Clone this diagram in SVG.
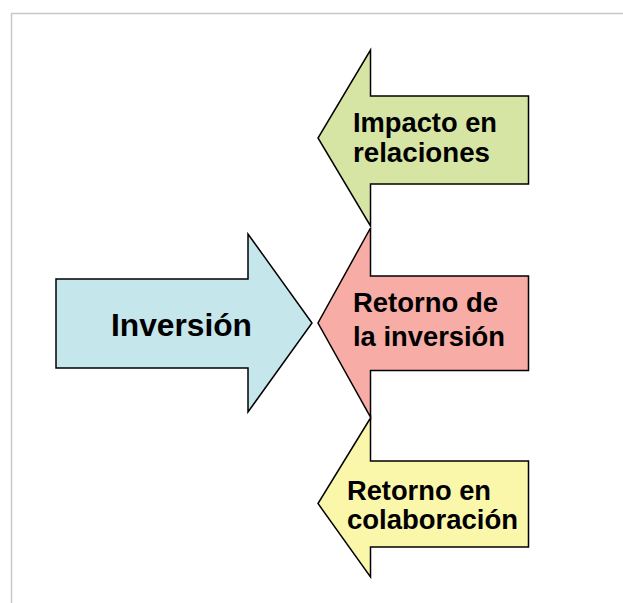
<svg xmlns="http://www.w3.org/2000/svg" width="623" height="603" viewBox="0 0 623 603">
<style>
.arrow{stroke:#000;stroke-width:1.5;stroke-linejoin:miter}
.lbl{font-family:"Liberation Sans",Arial,sans-serif;font-weight:bold;fill:#000}
.sm{font-size:27px}
.lg{font-size:31px}
</style>
<rect width="623" height="603" fill="#fff"/>
<path d="M11.5 603 V13.5 H623" fill="none" stroke="#c8c8c8" stroke-width="1.5"/>
<g id="connectors"></g>
<g id="inversion">
<path class="arrow" fill="#c5e6eb" d="M56 279 H248 V234 L312 323 L248 412 V368 H56 Z"/>
<text class="lbl lg" x="111" y="336" textLength="141" lengthAdjust="spacingAndGlyphs">Inversión</text>
</g>
<g id="impacto">
<path class="arrow" fill="#d7e5a4" d="M528.5 96 H370.5 V50 L318 138 L370.5 226 V184 H528.5 Z"/>
<text class="lbl sm" x="353" y="131.5" textLength="144" lengthAdjust="spacingAndGlyphs">Impacto en</text>
<text class="lbl sm" x="353" y="161.5" textLength="137" lengthAdjust="spacingAndGlyphs">relaciones</text>
</g>
<g id="retorno-inversion">
<path class="arrow" fill="#f7aca6" d="M528.5 276 H370.5 V228 L318 323 L370.5 417 V370.5 H528.5 Z"/>
<text class="lbl sm" x="353" y="312" textLength="145" lengthAdjust="spacingAndGlyphs">Retorno de</text>
<text class="lbl sm" x="353" y="346" textLength="152" lengthAdjust="spacingAndGlyphs">la inversión</text>
</g>
<g id="retorno-colaboracion">
<path class="arrow" fill="#faf6aa" d="M528.5 461 H370.5 V418 L318 503.5 L370.5 577 V547 H528.5 Z"/>
<text class="lbl sm" x="347" y="500" textLength="144" lengthAdjust="spacingAndGlyphs">Retorno en</text>
<text class="lbl sm" x="347" y="528.5" textLength="171" lengthAdjust="spacingAndGlyphs">colaboración</text>
</g>
</svg>
